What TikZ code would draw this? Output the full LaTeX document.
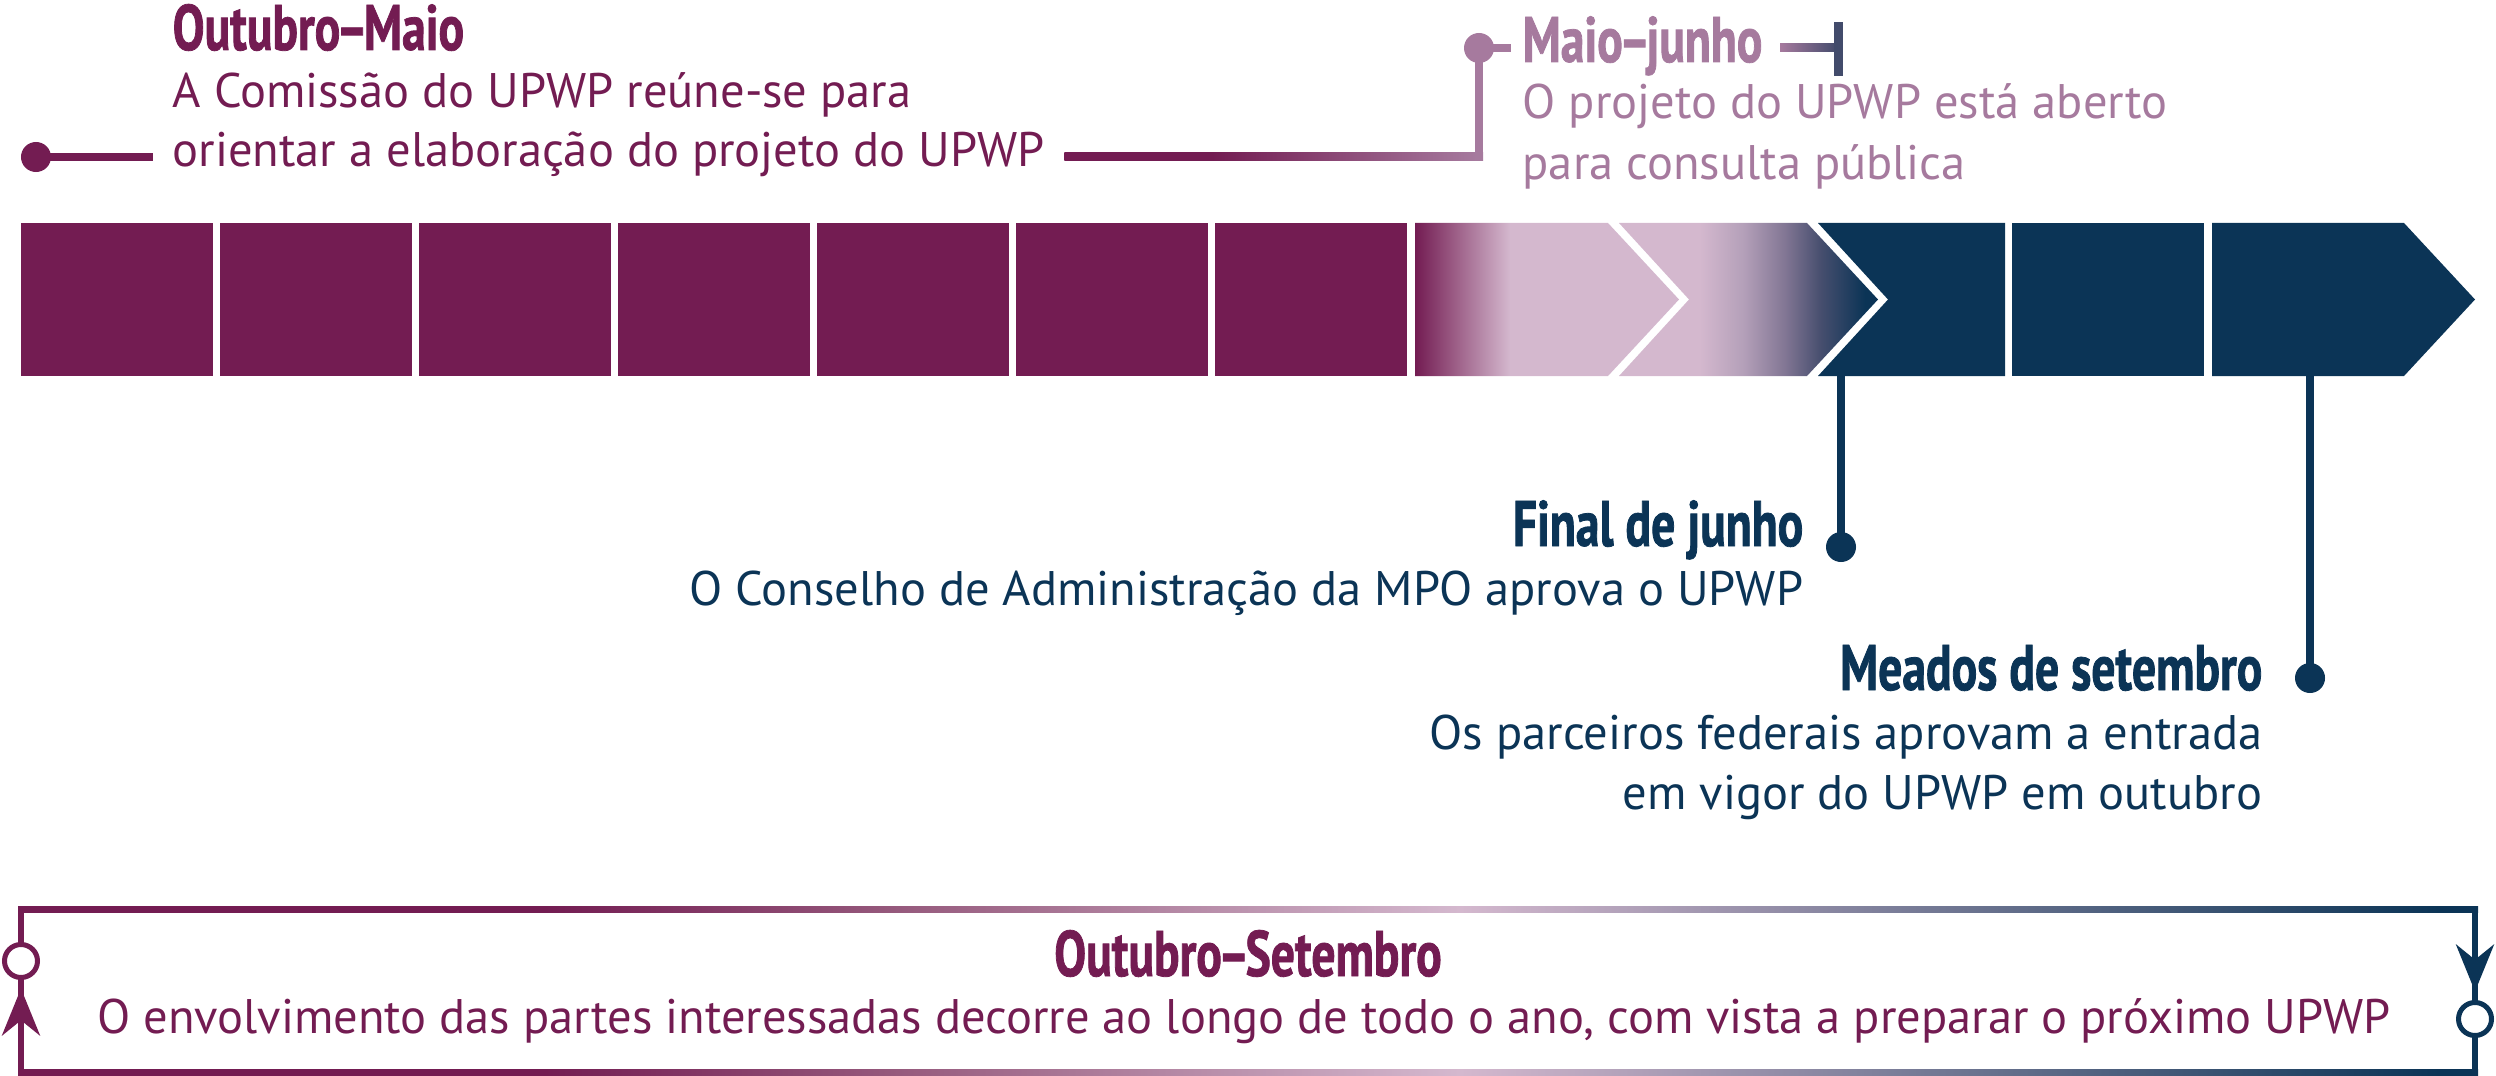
\documentclass[tikz,border=0pt]{standalone}
\usepackage{fontspec}
\setmainfont{PT Sans}
\newfontfamily\headfont[FakeStretch=0.74, BoldFeatures={FakeBold=1.2}]{PT Sans}
\usepackage{tikz}
\usetikzlibrary{
  positioning,
  calc,
  arrows.meta
}
\definecolor{upurple}{RGB}{115,28,82}
\definecolor{unavy}{RGB}{11,52,86}
\definecolor{upink}{RGB}{212,184,206}
\definecolor{umauve}{RGB}{166,122,158}
\definecolor{uslate}{RGB}{66,75,107}
\definecolor{umid}{RGB}{150,90,125}
\definecolor{ubone}{RGB}{180,160,185}
\definecolor{ubtwo}{RGB}{130,118,148}
\definecolor{ubthree}{RGB}{70,78,110}

\pgfdeclarehorizontalshading{barA}{100bp}{color(0bp)=(upurple); color(25bp)=(upurple); color(43bp)=(upink); color(100bp)=(upink)}
\pgfdeclarehorizontalshading{barB}{100bp}{color(0bp)=(upink); color(40.6bp)=(upink); color(49bp)=(ubone); color(57bp)=(ubtwo); color(64bp)=(ubthree); color(72.5bp)=(unavy); color(100bp)=(unavy)}
\pgfdeclarehorizontalshading{connA}{100bp}{color(0bp)=(upurple); color(42.6bp)=(upurple); color(74.2bp)=(umauve); color(100bp)=(umauve)}
\pgfdeclarehorizontalshading{frameG}{100bp}{color(0bp)=(upurple); color(35.7bp)=(upurple); color(42.9bp)=(umid); color(54.3bp)=(upink); color(74.2bp)=(unavy); color(100bp)=(unavy)}

\tikzstyle{conn}=[line width=0.08cm]
\tikzstyle{dot}=[circle, inner sep=0pt, minimum size=0.3cm]
\tikzstyle{ring}=[circle, fill=white, line width=0.05cm, inner sep=0pt, minimum size=0.33cm]
\tikzstyle{loopline}=[line width=0.055cm, -{Stealth[length=0.47cm, width=0.38cm]}, shorten >=0.085cm]
\tikzstyle{head}=[inner sep=0pt, font=\headfont\bfseries\fontsize{18.3}{20}\selectfont]
\tikzstyle{body}=[inner sep=0pt, font=\fontsize{13.8}{16}\selectfont]
\newcommand{\dash}{\kern-0.06em–\kern-0.06em}

\begin{document}
\begin{tikzpicture}[x=0.01cm, y=-0.01cm]
    \useasboundingbox (0,0) rectangle (2496,1076);

    % 帯（紫）
    \foreach \i in {0,...,6}
      \fill[upurple] ({21+199*\i},223) rectangle ++(192,153);
    % 帯（グラデーション）
    \shade[shading=barA] (1415,223) -- (1608,223) -- (1679,299.5) -- (1608,376) -- (1415,376) -- cycle;
    \shade[shading=barB] (1619,223) -- (1807,223) -- (1878,299.5) -- (1807,376) -- (1619,376) -- (1689,299.5) -- cycle;
    % 帯（紺）
    \fill[unavy] (1818,223) -- (2005,223) -- (2005,376) -- (1818,376) -- (1888,299.5) -- cycle;
    \fill[unavy] (2012,223) rectangle (2204,376);
    \fill[unavy] (2212,223) -- (2404,223) -- (2475,299.5) -- (2404,376) -- (2212,376) -- cycle;
    \coordinate (barbot) at (0,376);

    % Outubro–Maio
    \node[head, upurple, anchor=base west] (omhead) at (172,50) {Outubro\dash Maio};
    \node[body, upurple, anchor=base west] (omline1) at (172,108) {A Comissão do UPWP reúne-se para};
    \node[body, upurple, anchor=base west] (omline2) at (172,167) {orientar a elaboração do projeto do UPWP};
    \node[dot, fill=upurple] (omdot) at (36,157) {};
    \draw[conn, upurple] (omdot.center) -- ($(omline2.west |- omdot)+(-19,0)$);

    % Maio–junho
    \node[dot, fill=umauve] (mjdot) at (1479,48) {};
    \node[head, umauve, anchor=base west] (mjhead) at (1522,62) {Maio\dash junho};
    \node[body, umauve, anchor=base west] (mjline1) at (1522,119) {O projeto do UPWP está aberto};
    \node[body, umauve, anchor=base west] (mjline2) at (1522,180) {para consulta pública};
    \shade[shading=connA] ($(omline2.east |- omdot)+(19,-4)$) rectangle ($(mjdot |- omdot)+(4,4)$);
    \draw[conn, umauve] ($(mjdot |- omdot)+(0,4)$) -- (mjdot.center);
    \draw[conn, umauve] (mjdot.center) -- ($(mjhead.west |- mjdot)+(-11,0)$);
    \coordinate (mjtick) at (1838,48);
    \shade[left color=umauve, right color=uslate] ($(mjhead.east |- mjdot)+(17,-4)$) rectangle ($(mjtick)+(0,4)$);
    \fill[uslate] ($(mjtick)+(-4.5,-26)$) rectangle ($(mjtick)+(4.5,28)$);

    % Final de junho
    \node[dot, fill=unavy] (fjdot) at (1841,547) {};
    \draw[conn, unavy] (fjdot |- barbot) -- (fjdot.center);
    \node[head, unavy, anchor=base east] (fjhead) at (1804,546) {Final de junho};
    \node[body, unavy, anchor=base east] (fjline1) at (1804,605) {O Conselho de Administração da MPO aprova o UPWP};

    % Meados de setembro
    \node[dot, fill=unavy] (msdot) at (2310,678) {};
    \draw[conn, unavy] (msdot |- barbot) -- (msdot.center);
    \node[head, unavy, anchor=base east] (mshead) at (2263,690) {Meados de setembro};
    \node[body, unavy, anchor=base east] (msline1) at (2263,749) {Os parceiros federais aprovam a entrada};
    \node[body, unavy, anchor=base east] (msline2) at (2263,809) {em vigor do UPWP em outubro};

    % 年間の枠
    \coordinate (fnw) at (21,909);
    \coordinate (fse) at (2475,1072);
    \shade[shading=frameG] (18,906) rectangle (2478,912);
    \shade[shading=frameG] (18,1069) rectangle (2478,1075);
    \fill[upurple] (18,906) rectangle (24,1075);
    \fill[unavy] (2472,906) rectangle (2478,1075);
    \node[ring, draw=upurple] (loopL) at (21,961) {};
    \node[ring, draw=unavy] (loopR) at (2475,1019) {};
    \draw[loopline, upurple] (loopL |- fse) -- (loopL.south);
    \draw[loopline, unavy] (loopR |- fnw) -- (loopR.north);
    \node[head, upurple, anchor=base] (oshead) at (1248,976) {Outubro\dash Setembro};
    \node[body, upurple, anchor=base] (osline) at (1244,1033) {O envolvimento das partes interessadas decorre ao longo de todo o ano, com vista a preparar o próximo UPWP};
\end{tikzpicture}
\end{document}
